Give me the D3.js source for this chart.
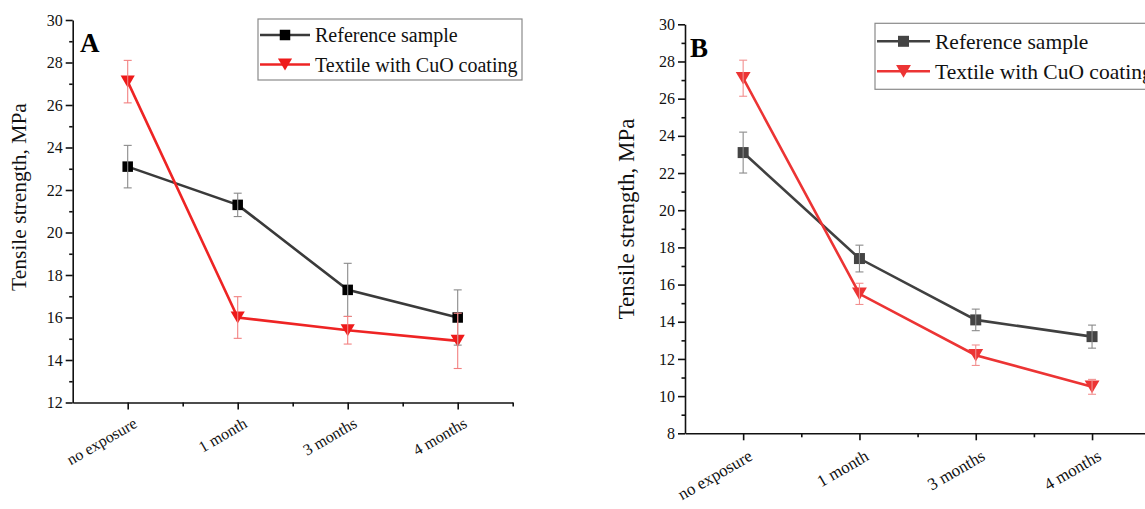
<!DOCTYPE html>
<html>
<head>
<meta charset="utf-8">
<script src="https://cdn.jsdelivr.net/npm/d3@7"></script>
<style>
  body { margin: 0; background: #fff; }
  svg { display: block; font-family: "Liberation Serif", "DejaVu Serif", serif; }
</style>
</head>
<body>
<script>
// data
var categories = ["no exposure", "1 month", "3 months", "4 months"];
var seriesNames = ["Reference sample", "Textile with CuO coating"];

var refA = [23.1, 21.3, 17.3, 16.0];
var refAErr = [1.0, 0.55, 1.25, 1.3];
var cuoA = [27.1, 16.0, 15.4, 14.9];
var cuoAErr = [1.0, 0.98, 0.65, 1.3];

var refB = [23.1, 17.4, 14.1, 13.2];
var refBErr = [1.1, 0.72, 0.58, 0.62];
var cuoB = [27.1, 15.5, 12.2, 10.5];
var cuoBErr = [0.97, 0.57, 0.55, 0.4];

var yTicksA = [12, 14, 16, 18, 20, 22, 24, 26, 28, 30];
var yTicksB = [8, 10, 12, 14, 16, 18, 20, 22, 24, 26, 28, 30];

var svg = d3.select("body").append("svg")
  .attr("width", 1145)
  .attr("height", 509);

function drawPanel(p) {
  var g = svg.append("g");

  var x = d3.scaleLinear().domain([0.5, 4.5]).range([p.left, p.right]);
  var y = d3.scaleLinear().domain([p.yMin, p.yMax]).range([p.bottom, p.top]);

  var majorX = d3.range(1, 5);
  var minorX = [1.5, 2.5, 3.5, 4.5];
  var minorY = d3.range(p.yMin + 1, p.yMax, 2);

  // minor ticks
  g.append("g")
    .attr("transform", "translate(0," + p.bottom + ")")
    .call(d3.axisBottom(x).tickValues(minorX).tickSize(4).tickFormat(""))
    .call(function(a){ a.select(".domain").remove(); });
  g.append("g")
    .attr("transform", "translate(" + p.left + ",0)")
    .call(d3.axisLeft(y).tickValues(minorY).tickSize(3.5).tickFormat(""))
    .call(function(a){ a.select(".domain").remove(); });

  // y axis
  var yAxis = g.append("g")
    .attr("transform", "translate(" + p.left + ",0)")
    .call(d3.axisLeft(y).tickValues(p.yTicks).tickSize(7).tickSizeOuter(0).tickPadding(3));
  yAxis.attr("font-family", null);
  yAxis.selectAll("text").attr("font-size", p.tickFont).attr("fill", "#111");

  // x axis
  var xAxis = g.append("g")
    .attr("transform", "translate(0," + p.bottom + ")")
    .call(d3.axisBottom(x).tickValues(majorX).tickSize(7).tickSizeOuter(0)
      .tickFormat(function(d){ return categories[d - 1]; }));
  xAxis.attr("font-family", null);
  xAxis.selectAll("text")
    .attr("font-size", p.xFont)
    .attr("fill", "#111")
    .attr("text-anchor", "end")
    .attr("dy", 0)
    .attr("y", 0)
    .attr("transform", "translate(" + p.xlx + "," + p.xly + ") rotate(-30)");

  g.selectAll(".domain, .tick line").attr("stroke", "#111").attr("stroke-width", 1.6);

  // y title
  g.append("text")
    .attr("transform", "translate(" + p.titleX + "," + p.titleY + ") rotate(-90)")
    .attr("text-anchor", "middle")
    .attr("font-size", p.titleFont)
    .attr("fill", "#111")
    .text("Tensile strength, MPa");

  // panel letter
  g.append("text")
    .attr("x", p.letterX).attr("y", p.letterY)
    .attr("font-size", p.letterFont)
    .attr("font-weight", "bold")
    .text(p.letter);

  var series = [
    { vals: p.ref, err: p.refErr, line: p.refLine, mark: p.refMark, errCol: p.refErrCol, sym: "square" },
    { vals: p.cuo, err: p.cuoErr, line: p.cuoLine, mark: p.cuoMark, errCol: p.cuoErrCol, sym: "tri" }
  ];

  var line = d3.line()
    .x(function(d, i){ return x(i + 1); })
    .y(function(d){ return y(d); });

  series.forEach(function(s) {
    g.append("path")
      .attr("d", line(s.vals))
      .attr("fill", "none")
      .attr("stroke", s.line)
      .attr("stroke-width", 2.6);
  });

  series.forEach(function(s) {
    s.vals.forEach(function(v, i) {
      drawMarker(g, s.sym, x(i + 1), y(v), p.markSize, s.mark);
    });
  });

  // error bars sit on top of the markers
  series.forEach(function(s) {
    var eb = g.append("g");
    s.vals.forEach(function(v, i) {
      var cx = x(i + 1);
      var y1 = y(v + s.err[i]), y2 = y(v - s.err[i]);
      eb.append("line").attr("x1", cx).attr("x2", cx).attr("y1", y1).attr("y2", y2)
        .attr("stroke", s.errCol).attr("stroke-width", 1.1);
      [y1, y2].forEach(function(yy) {
        eb.append("line").attr("x1", cx - 4).attr("x2", cx + 4).attr("y1", yy).attr("y2", yy)
          .attr("stroke", s.errCol).attr("stroke-width", 1.1);
      });
    });
  });

  // legend
  var lg = g.append("g");
  lg.append("rect")
    .attr("x", p.legX).attr("y", p.legY)
    .attr("width", p.legW).attr("height", p.legH)
    .attr("fill", "#fff").attr("stroke", "#8a8a8a").attr("stroke-width", 1.2);
  seriesNames.forEach(function(name, k) {
    var s = series[k];
    var ly = p.legY + p.legRow0 + k * p.legRowStep;
    lg.append("line")
      .attr("x1", p.legX + 2).attr("x2", p.legX + 2 + p.legLine)
      .attr("y1", ly).attr("y2", ly)
      .attr("stroke", s.line).attr("stroke-width", 2.6);
    drawMarker(lg, s.sym, p.legX + 2 + p.legLine / 2, ly, p.markSize, s.mark);
    lg.append("text")
      .attr("x", p.legX + p.legLine + 7).attr("y", ly)
      .attr("dy", "0.35em")
      .attr("font-size", p.legFont)
      .attr("fill", "#111")
      .text(name);
  });
}

function drawMarker(g, sym, cx, cy, size, col) {
  if (sym === "square") {
    g.append("rect")
      .attr("x", cx - size / 2).attr("y", cy - size / 2)
      .attr("width", size).attr("height", size)
      .attr("fill", col);
  } else {
    var w = size * 1.35, h = size * 1.15;
    g.append("path")
      .attr("d", "M" + (cx - w / 2) + "," + (cy - h / 2) + "L" + (cx + w / 2) + "," + (cy - h / 2) +
        "L" + cx + "," + (cy + h / 2) + "Z")
      .attr("fill", col);
  }
}

drawPanel({
  left: 72.7, right: 512.7, top: 20, bottom: 402.5, yMin: 12, yMax: 30, yTicks: yTicksA,
  ref: refA, refErr: refAErr, cuo: cuoA, cuoErr: cuoAErr,
  refLine: "#3a3a3a", refMark: "#000", refErrCol: "#8a8a8a",
  cuoLine: "#ee2424", cuoMark: "#ee1a1a", cuoErrCol: "#f28080",
  tickFont: 16, xFont: 16, xlx: 10, xly: 24, titleFont: 21.5, titleX: 26, titleY: 197,
  letter: "A", letterX: 80, letterY: 52, letterFont: 27, markSize: 10.5,
  legX: 258, legY: 19, legW: 264, legH: 61, legRow0: 16, legRowStep: 29.5, legLine: 50, legFont: 20
});

drawPanel({
  left: 685, right: 1150.2, top: 24.3, bottom: 433.3, yMin: 8, yMax: 30, yTicks: yTicksB,
  ref: refB, refErr: refBErr, cuo: cuoB, cuoErr: cuoBErr,
  refLine: "#404040", refMark: "#444", refErrCol: "#8a8a8a",
  cuoLine: "#ec3434", cuoMark: "#ec3434", cuoErrCol: "#f29090",
  tickFont: 16, xFont: 17, xlx: 10, xly: 26, titleFont: 23, titleX: 634, titleY: 219,
  letter: "B", letterX: 690, letterY: 57, letterFont: 27, markSize: 11,
  legX: 875, legY: 23.3, legW: 300, legH: 66, legRow0: 18, legRowStep: 30, legLine: 53, legFont: 21.5
});
</script>
</body>
</html>
